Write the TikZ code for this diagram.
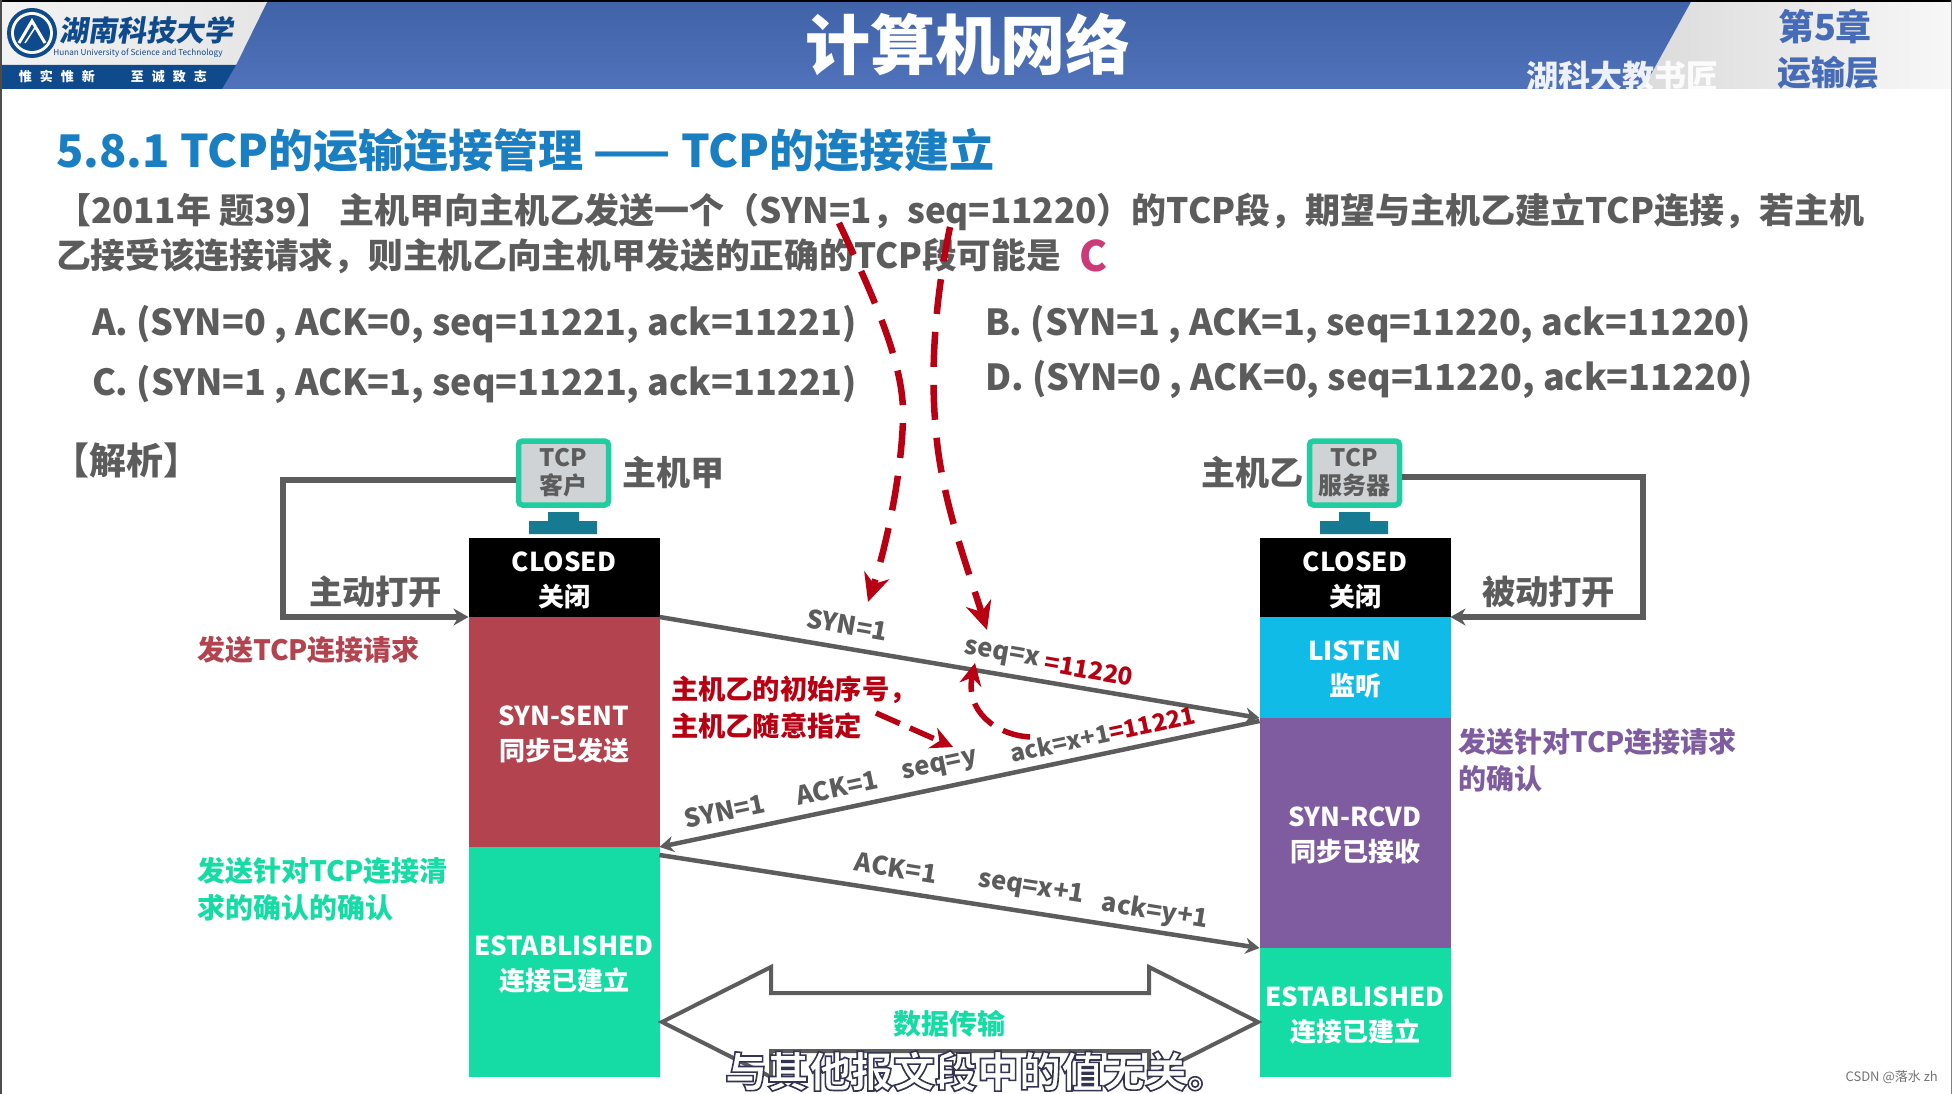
\documentclass[tikz,border=0pt]{standalone}
\usepackage{fontspec}
\setmainfont{Noto Sans CJK SC}
\usetikzlibrary{arrows.meta,calc}
\definecolor{hblue}{HTML}{466BB7}
\definecolor{hnavy}{HTML}{0F4A8C}
\definecolor{ttl}{HTML}{1A7EC2}
\definecolor{gtx}{HTML}{5C5C5C}
\definecolor{rdbox}{HTML}{B2434F}
\definecolor{grbox}{HTML}{14DCA4}
\definecolor{blbox}{HTML}{10BBE8}
\definecolor{ppbox}{HTML}{7F5CA0}
\definecolor{scr}{HTML}{D0D3D5}
\definecolor{scrb}{HTML}{1ECE9F}
\definecolor{stand}{HTML}{157A92}
\definecolor{redc}{HTML}{B80012}
\definecolor{pinkc}{HTML}{CC3B78}
\newcommand{\fs}[2]{\fontsize{#1}{#2}\selectfont}
\tikzset{
  statebox/.style={minimum width=191pt,inner sep=0pt,outer sep=0pt},
  statetext/.style={inner sep=0pt,outer sep=0pt,text=white,align=center,font=\fs{26}{35}\bfseries},
  lefttext/.style={inner sep=0pt,outer sep=0pt,anchor=west,font=\fs{34}{40}\bfseries,text=gtx},
  opttext/.style={lefttext,font=\fs{35.9}{40}\bfseries},
  cenlabel/.style={inner sep=0pt,outer sep=0pt,font=\fs{25.5}{30}\bfseries,text=gtx},
  sidetext/.style={inner sep=0pt,outer sep=0pt,anchor=west,align=left,font=\fs{28}{37}\bfseries},
  screenbox/.style={draw=scrb,fill=scr,line width=5.5pt,rounded corners=4pt,minimum width=90pt,minimum height=64pt,inner sep=0pt,align=center,text=gtx,font=\fs{24}{28}\bfseries},
  wireline/.style={draw=gtx,line width=5.5pt,-{Stealth[length=15pt,width=17pt]}},
  msgline/.style={draw=gtx,line width=4.5pt,-{Stealth[length=14pt,width=16pt]}},
  redarrow/.style={draw=redc,line width=6.5pt,dash pattern=on 35pt off 18pt,-{Stealth[length=28pt,width=26pt]}},
}
\begin{document}
\begin{tikzpicture}[x=1pt,y=-1pt]
\useasboundingbox (0,0) rectangle (1952,1094);
\fill[white] (0,0) rectangle (1952,1094);
% header
\shade[top color=hblue!92!black,bottom color=hblue!95!white] (0,2) rectangle (1700,89);
\shade[left color=black!14,right color=black!3] (1691,2) -- (1952,2) -- (1952,89) -- (1643,89) -- cycle;
\shade[left color=black!5,right color=black!10] (0,2) -- (267,2) -- (236,65) -- (0,65) -- cycle;
\fill[hnavy] (0,65) -- (236,65) -- (222,89) -- (0,89) -- cycle;
\fill[black] (0,0) rectangle (1952,2);
\fill[black!70] (0,0) rectangle (1.5,1094);
\fill[black!50] (1950.5,0) rectangle (1952,1094);
\fill[hnavy] (32,33) circle (25);
\fill[white] (32,33) circle (21);
\fill[hnavy] (32,33) circle (18);
\draw[white,line width=3pt] (19,43) -- (32,21) -- (45,43);
\draw[white,line width=1.5pt] (25,43) -- (36,26);
\node[inner sep=0pt,text=hnavy,font=\fs{29}{32}\bfseries,xslant=0.15] (school) at (148,30) {湖南科技大学};
\node[inner sep=0pt,text=hnavy,font=\fs{8.2}{10}] (schoolen) at (138,53) {Hunan University of Science and Technology};
\node[inner sep=0pt,text=white,font=\fs{13}{14}\bfseries] (motto) at (113,77) {惟\hspace{8pt}实\hspace{8pt}惟\hspace{8pt}新\hspace{36pt}至\hspace{8pt}诚\hspace{8pt}致\hspace{8pt}志};
\node[inner sep=0pt,text=white,font=\fs{65}{70}\bfseries] (maintitle) at (968,44) {计算机网络};
\node[inner sep=0pt,text=white,font=\fs{32}{36}\bfseries,opacity=0.9] (wmark) at (1622,76) {湖科大教书匠};
\node[inner sep=0pt,text=hblue,font=\fs{36}{40}\bfseries] (chap) at (1825,27) {第5章};
\node[inner sep=0pt,text=hblue,font=\fs{34}{36}\bfseries] (layer) at (1828,73) {运输层};
% headings
\node[lefttext,font=\fs{45}{50}\bfseries,text=ttl] (heading) at (56,150) {5.8.1 TCP的运输连接管理 —— TCP的连接建立};
\node[lefttext,font=\fs{35}{40}\bfseries] (q1) at (56,212) {【2011年 题39】 主机甲向主机乙发送一个（SYN=1，seq=11220）的TCP段，期望与主机乙建立TCP连接，若主机};
\node[lefttext,font=\fs{34.7}{40}\bfseries] (q2) at (56,256) {乙接受该连接请求，则主机乙向主机甲发送的正确的TCP段可能是};
\node[inner sep=0pt,text=pinkc,font=\fs{42}{46}\bfseries] (answer) at (1093,256) {C};
\node[opttext] (optA) at (92,324) {A. (SYN=0 , ACK=0, seq=11221, ack=11221)};
\node[opttext] (optB) at (985,324) {B. (SYN=1 , ACK=1, seq=11220, ack=11220)};
\node[opttext] (optC) at (92,384) {C. (SYN=1 , ACK=1, seq=11221, ack=11221)};
\node[opttext] (optD) at (985,379) {D. (SYN=0 , ACK=0, seq=11220, ack=11220)};
\node[lefttext,font=\fs{37}{40}\bfseries] (jiexi) at (52,460) {【解析】};
% monitors
\node[screenbox] (mon1) at (563.5,473) {TCP\\客户};
\node[screenbox] (mon2) at (1354.5,473) {TCP\\服务器};
\fill[stand] (548,512) rectangle (579,522) (529,521) rectangle (597,534);
\fill[stand] (1339,512) rectangle (1370,522) (1320,521) rectangle (1388,534);
\node[lefttext] (hostA) at (622,472) {主机甲};
\node[lefttext] (hostB) at (1201,472) {主机乙};
% state boxes
\node[statebox,fill=black,minimum height=79pt] (closedA) at (564,577.5) {};
\node[statebox,fill=rdbox,minimum height=230pt] (sent) at (564,732) {};
\node[statebox,fill=grbox,minimum height=230pt] (estA) at (564,962) {};
\node[statebox,fill=black,minimum height=79pt] (closedB) at (1355,577.5) {};
\node[statebox,fill=blbox,minimum height=101pt] (listen) at (1355,667.5) {};
\node[statebox,fill=ppbox,minimum height=230pt] (rcvd) at (1355,833) {};
\node[statebox,fill=grbox,minimum height=129pt] (estB) at (1355,1012.5) {};
\node[statetext] (closedAt) at ($(closedA)+(0,2.5)$) {CLOSED\\关闭};
\node[statetext] (sentt) at ($(sent)+(0,2.5)$) {SYN-SENT\\同步已发送};
\node[statetext] (estAt) at ($(estA)+(0,2.5)$) {ESTABLISHED\\连接已建立};
\node[statetext] (closedBt) at ($(closedB)+(0,2.5)$) {CLOSED\\关闭};
\node[statetext] (listent) at ($(listen)+(0,2.5)$) {LISTEN\\监听};
\node[statetext] (rcvdt) at ($(rcvd)+(0,2.5)$) {SYN-RCVD\\同步已接收};
\node[statetext] (estBt) at ($(estB)+(0,3.5)$) {ESTABLISHED\\连接已建立};
% open wires
\coordinate (cornerA1) at (283,480);
\coordinate (cornerA2) at (283,617);
\coordinate (cornerB1) at (1643,477);
\coordinate (cornerB2) at (1643,617);
\draw[wireline] (mon1.west |- cornerA1) -- (cornerA1) -- (cornerA2) -- (closedA.south west);
\draw[wireline] (mon2.east |- cornerB1) -- (cornerB1) -- (cornerB2) -- (closedB.south east);
\node[lefttext,font=\fs{33.3}{38}\bfseries] (activeopen) at (309,592) {主动打开};
\node[lefttext,font=\fs{33.3}{38}\bfseries] (passiveopen) at (1482,592) {被动打开};
% messages
\draw[msgline] (closedA.south east) -- (listen.south west);
\draw[msgline] ($(rcvd.north west)+(0,3)$) -- (sent.south east);
\draw[msgline] ($(estA.north east)+(0,8)$) -- (estB.north west);
% labels
\node[cenlabel,rotate=-10] (l1) at (847,625) {SYN=1};
\node[cenlabel,rotate=-10] (l2) at (1002,655) {seq=x};
\node[cenlabel,rotate=-10,text=redc,font=\fs{24.5}{30}\bfseries] (l3) at (1089,670) {=11220};
\node[cenlabel,rotate=12] (l4) at (725,811) {SYN=1};
\node[cenlabel,rotate=12] (l5) at (837,788) {ACK=1};
\node[cenlabel,rotate=12] (l6) at (940,767) {seq=y};
\node[cenlabel,rotate=12,font=\fs{24}{30}\bfseries] (l7) at (1103,734) {ack=x+1\textcolor{redc}{=11221}};
\node[cenlabel,rotate=-9] (l9) at (896,868) {ACK=1};
\node[cenlabel,rotate=-9] (l10) at (1031,888) {seq=x+1};
\node[cenlabel,rotate=-9] (l11) at (1155,912) {ack=y+1};
% side texts
\node[sidetext,text=rdbox] (s1) at (197,650) {发送TCP连接请求};
\node[sidetext,text=grbox] (s2) at (197,889) {发送针对TCP连接清\\求的确认的确认};
\node[sidetext,text=ppbox] (s3) at (1458,760) {发送针对TCP连接请求\\的确认};
\node[sidetext,font=\fs{27.3}{37}\bfseries,text=redc] (s4) at (671,707) {主机乙的初始序号，\\主机乙随意指定};
% data transfer
\node[inner sep=0pt,text=grbox,font=\fs{28}{32}\bfseries] (data) at (949,1024) {数据传输};
\coordinate (dl) at (662,1022);
\coordinate (dr) at (1258,1022);
\draw[gtx,line width=4pt,line join=miter] (dl) -- (771,967) -- (771,993) -- (1149,993) -- (1149,967) -- (dr) -- (1149,1077) -- (1149,1051) -- (771,1051) -- (771,1077) -- cycle;
% red arrows
\coordinate (a1) at (839,223);
\coordinate (a2) at (903,420);
\coordinate (a3) at (868,602);
\coordinate (b1) at (950,227);
\coordinate (b2) at (936,432);
\coordinate (b3) at (987,630);
\coordinate (c1) at (876,713);
\coordinate (c2) at (953,747);
\coordinate (d1) at (1030,737);
\coordinate (d2) at (975,663);
\draw[redarrow] (a1) .. controls (880,310) and (905,370) .. (a2) .. controls (901,480) and (885,550) .. (a3);
\draw[redarrow] (b1) .. controls (935,300) and (930,370) .. (b2) .. controls (942,500) and (965,560) .. (b3);
\draw[redarrow,line width=5.5pt,dash pattern=on 26pt off 11pt,-{Stealth[length=22pt,width=22pt]}] (c1) -- (c2);
\draw[redarrow,line width=5.5pt,dash pattern=on 28pt off 12pt,-{Stealth[length=22pt,width=22pt]}] (d1) .. controls (995,735) and (965,710) .. (d2);
% subtitle
\node[inner sep=0pt,text=white,font=\fs{42}{44}\bfseries] (subtitle) at (977,1071) {\special{pdf:code 2 Tr 1.6 w 0.2 0.2 0.32 RG}与其他报文段中的值无关。\special{pdf:code 0 Tr}};
\node[inner sep=0pt,anchor=east,text=black!55,font=\fs{13}{15}] (csdn) at (1938,1077) {CSDN @落水 zh};
\end{tikzpicture}
\end{document}
